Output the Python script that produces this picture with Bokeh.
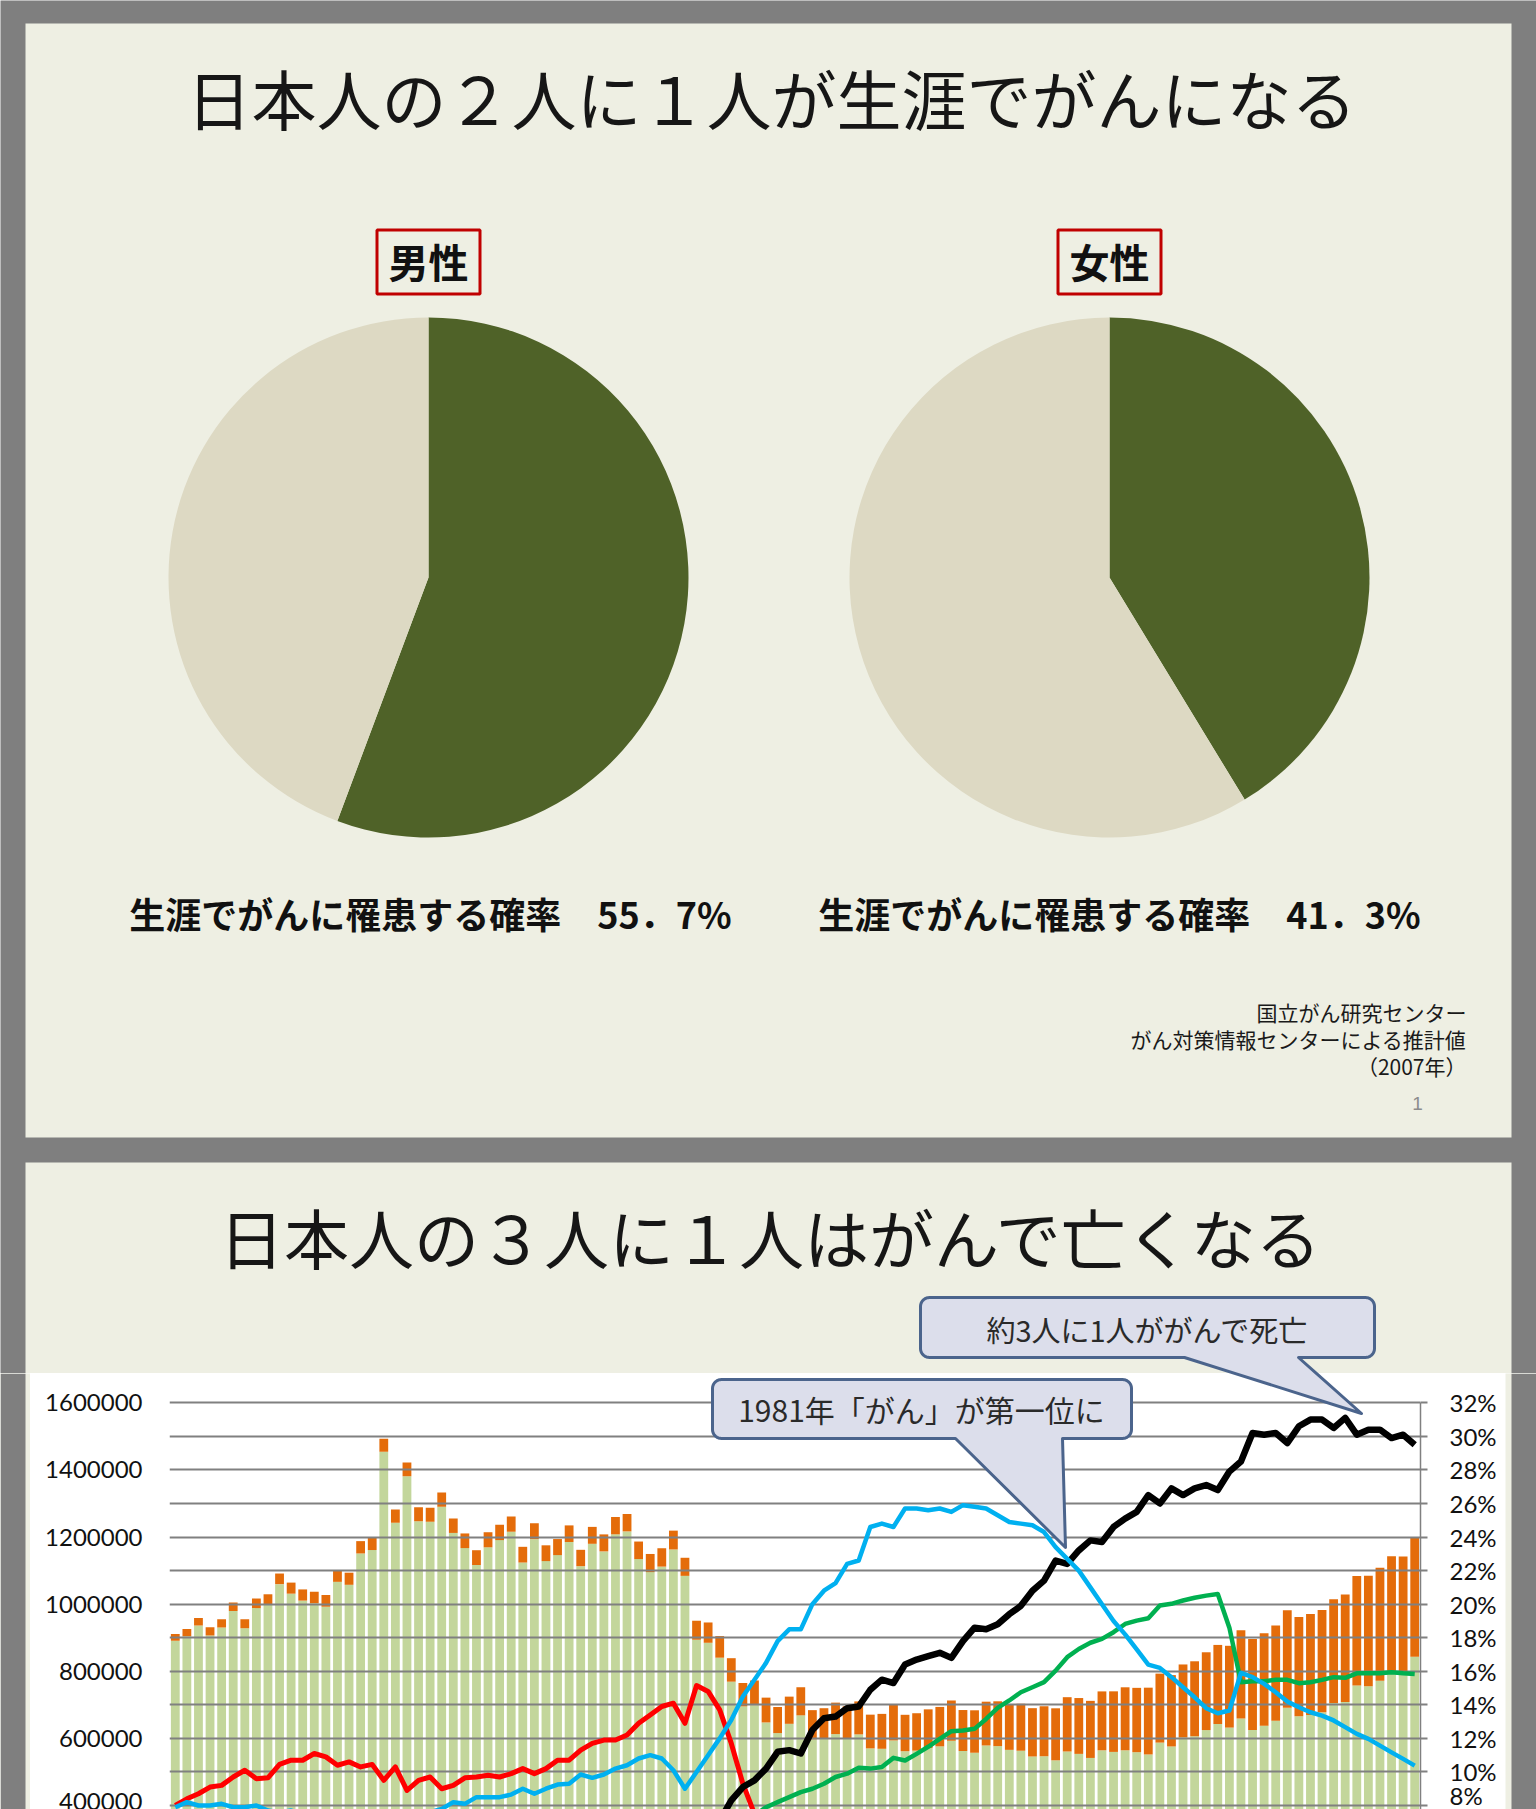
import numpy as np
from bokeh.plotting import figure
from bokeh.models import (ColumnDataSource, Range1d, LinearAxis, FixedTicker,
                          PrintfTickFormatter, NumeralTickFormatter)
from bokeh.layouts import column, row
from bokeh.core.properties import value
from bokeh.embed import file_html
from bokeh.resources import INLINE

# ---------------- data ----------------
# slide 1: lifetime cancer risk (2007)
sex_labels = ["男性", "女性"]
lifetime_rate = [55.7, 41.3]

# slide 2: deaths in Japan (no data 1944-1946)
years = [str(y) for y in list(range(1900, 1944)) + list(range(1947, 2011))]

total_deaths = [
    910744, 925810, 959126, 931008, 955400, 1004661, 955256, 1016798, 1029447, 1091264,
    1064234, 1043906, 1037016, 1027257, 1101815, 1093793, 1187832, 1199669, 1493162, 1281965,
    1422096, 1288570, 1286941, 1332485, 1254946, 1210706, 1160734, 1214323, 1236711, 1261228,
    1170867, 1240891, 1175344, 1193987, 1234684, 1161936, 1230278, 1207899, 1259805, 1268760,
    1186595, 1149559, 1166630, 1219073,
    1138238, 950610, 945444, 904876, 838998, 765068, 772547, 721491, 693523, 724460,
    752445, 684189, 689959, 706599, 695644, 710265, 670770, 673067, 700438, 670342,
    675006, 686555, 693787, 712962, 684521, 683751, 709416, 710510, 702275, 703270,
    690074, 695821, 689664, 722801, 720262, 711883, 740038, 740247, 752283, 750620,
    751172, 793014, 788594, 820305, 829797, 856643, 878532, 875933, 922139, 896211,
    913402, 936484, 982031, 961653, 970331, 982379, 1014951, 1028602, 1083796, 1084450,
    1108334, 1142407, 1141865, 1197012]

cancer_deaths = [
    20000, 21300, 23000, 24200, 24800, 25100, 26700, 28500, 29900, 31600,
    33000, 33400, 34200, 34900, 35300, 36100, 36800, 38400, 38800, 39700,
    41200, 41200, 41200, 42600, 42700, 43600, 44100, 44900, 45800, 45400,
    46800, 47200, 47000, 47800, 49400, 48800, 50400, 50700, 51700, 52000,
    52200, 54000, 54800, 56100,
    53900, 56600, 60500, 64400, 70000, 69500, 73500, 74000, 77700, 81000,
    83700, 87000, 91100, 93800, 96400, 98300, 100500, 104000, 106500, 108500,
    111500, 115000, 117500, 120000, 122000, 126500, 130500, 133500, 136400, 140000,
    144000, 149000, 155000, 161800, 166400, 170100, 175500, 180500, 187700, 191700,
    199000, 205500, 212600, 217400, 223500, 231900, 235700, 243700, 263000, 271200,
    275400, 283900, 290600, 295500, 300700, 304600, 309500, 320400, 325900, 329300,
    336500, 343000, 344100, 353500]

# share of all deaths (%)
cancer_share = [
    2.2, 2.3, 2.4, 2.6, 2.6, 2.5, 2.8, 2.8, 2.9, 2.9,
    3.1, 3.2, 3.3, 3.4, 3.2, 3.3, 3.1, 3.2, 2.6, 3.1,
    2.9, 3.2, 3.2, 3.2, 3.4, 3.6, 3.8, 3.7, 3.7, 3.6,
    4.0, 3.8, 4.0, 4.0, 4.0, 4.2, 4.1, 4.2, 4.1, 4.1,
    4.4, 4.7, 4.7, 4.6,
    4.7, 6.0, 6.4, 7.1, 8.3, 9.1, 9.5, 10.2, 11.2, 11.3,
    11.1, 12.5, 13.2, 13.3, 13.8, 13.9, 14.9, 15.5, 15.3, 16.4,
    16.7, 16.9, 17.1, 16.8, 17.8, 18.6, 18.5, 18.8, 19.4, 19.9,
    20.8, 21.4, 22.6, 22.4, 23.2, 23.8, 23.7, 24.6, 25.1, 25.5,
    26.5, 26.0, 26.9, 26.5, 26.9, 27.1, 26.8, 27.9, 28.5, 30.2,
    30.1, 30.2, 29.6, 30.6, 31.0, 31.0, 30.5, 31.1, 30.1, 30.4,
    30.4, 29.9, 30.1, 29.5]

tb_share = [
    8.0, 8.4, 8.7, 9.1, 9.2, 9.7, 10.1, 9.6, 9.65, 10.45,
    10.7, 10.7, 11.1, 10.9, 10.4, 10.6, 10.3, 10.45, 9.5, 10.3,
    8.9, 9.5, 9.7, 9.0, 9.2, 9.65, 9.7, 9.8, 9.7, 9.9,
    10.2, 9.9, 10.2, 10.7, 10.7, 11.3, 11.7, 11.9, 11.9, 12.2,
    12.9, 13.4, 13.9, 14.1,
    12.9, 15.15, 14.8, 13.7, 11.7, 9.3,
    7.5, 6.5, 6.7, 6.0, 5.4, 4.9, 4.4, 4.3, 3.9, 3.7,
    3.4, 3.0, 3.1, 2.9, 2.7, 2.6, 2.5, 2.2, 2.0, 1.9,
    1.7, 1.6, 1.5, 1.4, 1.2, 1.1, 1.0, 0.9, 0.9, 0.8,
    0.7, 0.7, 0.6, 0.6, 0.6, 0.5, 0.4, 0.4, 0.4, 0.4,
    0.4, 0.4, 0.3, 0.3, 0.3, 0.3, 0.3, 0.3, 0.3, 0.2,
    0.2, 0.2, 0.2, 0.2, 0.2, 0.2, 0.2, 0.2]

stroke_share = [
    7.9, 8.2, 8.0, 8.0, 8.1, 7.9, 7.9, 8.0,
    7.7, 7.6, 7.7, 7.5, 7.6, 7.6, 7.4, 7.5, 7.3, 7.3, 6.1, 7.0, 6.7, 7.4, 7.6, 7.8,
    8.2, 8.1, 8.5, 8.5, 8.5, 8.65, 9.0, 8.7, 9.0, 9.25,
    9.3, 9.85, 9.65, 9.85, 10.2, 10.4, 10.8, 11.0, 10.8, 10.1,
    9.0, 10.0, 11.0, 12.0, 13.1, 14.5, 15.5, 16.5, 17.8,
    18.5, 18.5, 20.0, 20.8, 21.25, 22.4, 22.6, 24.6, 24.8, 24.6,
    25.7, 25.7, 25.6, 25.7, 25.5, 25.9, 25.8, 25.7, 25.3, 24.9,
    24.8, 24.7, 24.3, 23.4, 22.7, 22.0, 21.0,
    20.0, 19.0, 18.2, 17.3, 16.4, 16.2, 15.65, 15.05, 14.45, 13.8,
    13.5, 13.66, 15.9, 15.65, 15.25, 14.75, 14.2, 13.86, 13.56, 13.36,
    13.07, 12.67, 12.27, 11.97, 11.57, 11.17, 10.78, 10.38]

heart_share = [
    2.3, 2.4, 2.5, 2.6, 2.7, 2.8, 2.9, 3.0, 3.1, 3.1,
    3.2, 3.3, 3.4, 3.4, 3.5, 3.6, 3.6, 3.7, 3.2, 3.7,
    3.5, 3.9, 4.0, 4.0, 4.2, 4.3, 4.5, 4.5, 4.6, 4.6,
    4.8, 4.8, 4.9, 5.0, 5.0, 5.1, 5.1, 5.2, 5.2, 5.3,
    5.3, 5.4, 5.4, 5.5,
    5.3, 5.5, 5.8, 6.2, 6.6, 7.0, 7.4, 7.9, 8.2,
    8.5, 8.8, 9.0, 9.3, 9.7, 9.9, 10.25, 10.2, 10.3, 10.84,
    10.68, 11.08, 11.5, 11.97, 12.43, 12.47, 12.57, 13.16, 13.82, 14.26,
    14.75, 15.05, 15.35, 16.04, 16.84, 17.33, 17.7,
    17.93, 18.33, 18.82, 19.02, 19.16, 19.92, 20.02, 20.22, 20.38, 20.51,
    20.61, 18.6, 15.35, 15.41, 15.41, 15.49, 15.49, 15.29, 15.35, 15.49,
    15.65, 15.61, 15.88, 15.88, 15.88, 15.94, 15.88, 15.84]

left_ticks = [400000, 600000, 800000, 1000000, 1200000, 1400000, 1600000]
grid_ticks = [400000 + 100000 * k for k in range(13)]
right_ticks = [8, 10, 12, 14, 16, 18, 20, 22, 24, 26, 28, 30, 32]

# ---------------- style ----------------
GRAY = "#7f7f7f"
CREAM = "#eeefe3"
PIE_G = "#4f6228"
PIE_B = "#ddd9c3"
BAR_G = "#c3d69b"
BAR_O = "#e46c0a"
GRIDC = "#808080"
CALL_FILL = "#dcdeeb"
CALL_LINE = "#4b648c"
JP = value("Noto Sans CJK JP")
NUMF = "Lato"


def callout_path(x0, y0, x1, y1, r, bl, br, tx, ty):
    xs, ys = [], []

    def arc(cx, cy, a0, a1):
        t = np.linspace(a0, a1, 10)
        xs.extend((cx + r * np.cos(t)).tolist())
        ys.extend((cy + r * np.sin(t)).tolist())
    arc(x0 + r, y0 + r, np.pi, 1.5 * np.pi)
    arc(x1 - r, y0 + r, 1.5 * np.pi, 2 * np.pi)
    arc(x1 - r, y1 - r, 0, 0.5 * np.pi)
    xs.extend([br, tx, bl])
    ys.extend([y1, ty, y1])
    arc(x0 + r, y1 - r, 0.5 * np.pi, np.pi)
    return xs, ys


CALL1 = callout_path(920, 1297, 1374, 1357, 9, 1184, 1298, 1361, 1413)
CALL2 = callout_path(712, 1379, 1131, 1438, 9, 955, 1062, 1065, 1547)

TOP, BOT = 1373, 1809   # white chart area: from TOP to the bottom of the window

# ---------------- top figure (slide 1 + slide 2 header) ----------------
ft = figure(width=1536, height=TOP, x_range=Range1d(0, 1536), y_range=Range1d(TOP, 0),
            output_backend="svg", toolbar_location=None,
            x_axis_location=None, y_axis_location=None, min_border=0,
            background_fill_color=GRAY, border_fill_color=GRAY, outline_line_color=None)
ft.grid.visible = False

ft.quad(left=[25, 25], right=[1511, 1511], top=[23, 1162], bottom=[1137, TOP + 5],
        fill_color=CREAM, line_color=None)

ft.text(x=[771], y=[96], text=["日本人の２人に１人が生涯でがんになる"], text_font=JP,
        text_font_size="65px", text_align="center", text_baseline="middle", text_color="#161616")

pie_x = [428, 1109]
for cx, rate, lab in zip(pie_x, lifetime_rate, sex_labels):
    a_end = np.pi / 2 - 2 * np.pi * rate / 100.0
    ft.wedge(x=[cx, cx], y=[577, 577], radius=260, radius_units="screen",
             start_angle=[np.pi / 2, a_end], end_angle=[a_end, np.pi / 2],
             direction="clock", fill_color=[PIE_G, PIE_B], line_color=None)
    ft.quad(left=[cx - 51.5], right=[cx + 51.5], top=[229.5], bottom=[293.5],
            fill_color=None, line_color="#c00000", line_width=3)
    ft.text(x=[cx], y=[260], text=[lab], text_font=JP, text_font_style="bold",
            text_font_size="40px", text_align="center", text_baseline="middle",
            text_color="#111111")

cap_x = [430, 1119]
for cx, rate in zip(cap_x, lifetime_rate):
    s = f"{rate:.1f}".replace(".", "．")
    ft.text(x=[cx], y=[912], text=["生涯でがんに罹患する確率　" + s + "%"], text_font=JP,
            text_font_style="bold", text_font_size="36px", text_align="center",
            text_baseline="middle", text_color="#111111")

ft.text(x=[1466, 1466, 1466], y=[1011, 1038, 1065],
        text=["国立がん研究センター", "がん対策情報センターによる推計値", "（2007年）"],
        text_font=JP, text_font_size="21px", text_align="right", text_baseline="middle",
        text_color="#1a1a1a")
ft.text(x=[1417], y=[1103], text=["1"], text_font=value("Liberation Sans"),
        text_font_size="19px", text_align="center", text_baseline="middle", text_color="#8c8c8c")

ft.text(x=[771], y=[1235], text=["日本人の３人に１人はがんで亡くなる"], text_font=JP,
        text_font_size="65px", text_align="center", text_baseline="middle", text_color="#161616")

ft.patch(x=CALL1[0], y=CALL1[1], fill_color=CALL_FILL, line_color=CALL_LINE, line_width=3,
         line_join="round")
ft.text(x=[1147], y=[1328], text=["約3人に1人ががんで死亡"], text_font=JP, text_font_size="29px",
        text_align="center", text_baseline="middle", text_color="#2a2a2a")

# ---------------- chart figure ----------------
Y32 = 1402.3          # pixel of the 32% / 1,600,000 gridline
PX_PER_100K = 33.56   # pixels per 100000 (= per 2%)
v_top = 1600000 + (Y32 - TOP) / PX_PER_100K * 100000
v_bot = 1600000 - (BOT - Y32) / PX_PER_100K * 100000

src = ColumnDataSource(dict(
    pos=list(range(len(years))),
    year=years,
    other=[t - c for t, c in zip(total_deaths, cancer_deaths)],
    cancer=cancer_deaths,
    cancer_share=cancer_share,
    tb_share=tb_share,
    stroke_share=stroke_share,
    heart_share=heart_share,
))

fc = figure(width=1475, height=BOT - TOP, x_range=Range1d(-0.5, len(years) - 0.5),
            y_range=Range1d(v_bot, v_top), output_backend="svg", toolbar_location=None,
            x_axis_location=None, y_axis_location="left",
            min_border_left=139, min_border_right=85, min_border_top=0, min_border_bottom=0,
            background_fill_color="white", border_fill_color="white", outline_line_color=None)
fc.extra_y_ranges = {"pct": Range1d(v_bot / 50000, v_top / 50000), "px": Range1d(BOT, TOP)}
fc.extra_x_ranges = {"px": Range1d(169, 1420)}

ya = fc.yaxis[0]
ya.ticker = FixedTicker(ticks=left_ticks)
ya.formatter = NumeralTickFormatter(format="0")
ya.major_tick_out = 0
ya.major_tick_in = 0
ya.minor_tick_out = 0
ya.minor_tick_in = 0
ya.axis_line_color = None
ya.major_label_standoff = 27
ya.major_label_text_font = NUMF
ya.major_label_text_font_size = "24px"
ya.major_label_text_color = "#111111"

ra = LinearAxis(y_range_name="pct", ticker=FixedTicker(ticks=right_ticks),
                formatter=PrintfTickFormatter(format="%d%%"), bounds=(0, 32),
                major_tick_out=7, major_tick_in=0, minor_tick_out=0, minor_tick_in=0,
                axis_line_color=GRIDC, axis_line_width=1.5, major_tick_line_color=GRIDC,
                major_tick_line_width=2, major_label_standoff=22,
                major_label_text_font=NUMF, major_label_text_font_size="24px",
                major_label_text_color="#111111")
fc.add_layout(ra, "right")

for g in fc.ygrid:
    g.ticker = FixedTicker(ticks=grid_ticks)
    g.grid_line_color = GRIDC
    g.grid_line_width = 2
for g in fc.xgrid:
    g.visible = False

fc.vbar_stack(["other", "cancer"], x="pos", width=0.76, fill_color=[BAR_G, BAR_O],
              line_color=None, source=src, level="image")

fc.line(x="pos", y="tb_share", source=src, y_range_name="pct", line_color="#ff0000",
        line_width=5, line_join="round")
fc.line(x="pos", y="heart_share", source=src, y_range_name="pct", line_color="#00b050",
        line_width=4.5, line_join="round")
fc.line(x="pos", y="cancer_share", source=src, y_range_name="pct", line_color="#000000",
        line_width=6.5, line_join="round")
fc.line(x="pos", y="stroke_share", source=src, y_range_name="pct", line_color="#00b0f0",
        line_width=4.5, line_join="round")

fc.patch(x=CALL1[0], y=CALL1[1], x_range_name="px", y_range_name="px", fill_color=CALL_FILL,
         line_color=CALL_LINE, line_width=3, line_join="round", level="annotation")
fc.patch(x=CALL2[0], y=CALL2[1], x_range_name="px", y_range_name="px", fill_color=CALL_FILL,
         line_color=CALL_LINE, line_width=3, line_join="round", level="annotation")
fc.text(x=[921], y=[1408], text=["1981年「がん」が第一位に"], x_range_name="px",
        y_range_name="px", text_font=JP, text_font_size="30px", text_align="center",
        text_baseline="middle", text_color="#2a2a2a", level="annotation")

# ---------------- side strips ----------------
fl = figure(width=30, height=BOT - TOP, x_range=Range1d(0, 30), y_range=Range1d(0, 1),
            output_backend="svg", toolbar_location=None, x_axis_location=None,
            y_axis_location=None, min_border=0, background_fill_color=CREAM,
            border_fill_color=CREAM, outline_line_color=None)
fl.grid.visible = False
fl.quad(left=[0], right=[25], top=[1], bottom=[0], fill_color=GRAY, line_color=None)

fr = figure(width=31, height=BOT - TOP, x_range=Range1d(1505, 1536), y_range=Range1d(0, 1),
            output_backend="svg", toolbar_location=None, x_axis_location=None,
            y_axis_location=None, min_border=0, background_fill_color=CREAM,
            border_fill_color=CREAM, outline_line_color=None)
fr.grid.visible = False
fr.quad(left=[1511], right=[1536], top=[1], bottom=[0], fill_color=GRAY, line_color=None)

p = column(ft, row(fl, fc, fr))

open("out.html", "w").write(file_html(p, INLINE))
